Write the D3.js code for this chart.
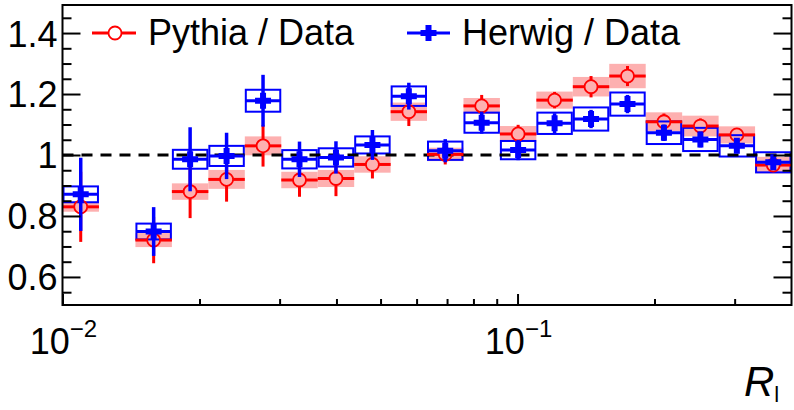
<!DOCTYPE html>
<html>
<head>
<meta charset="utf-8">
<script src="https://d3js.org/d3.v7.min.js"></script>
<style>
  body { margin: 0; background: #fff; }
  text { font-family: "Liberation Sans", Arial, Helvetica, sans-serif; }
</style>
</head>
<body>
<svg id="chart" width="794" height="410"></svg>
<script>
// bin edges in R_l (20 log bins, 0.01 -> 0.4); bin 1 has no entry
var binEdges = [0.01, 0.012026, 0.014463, 0.017393, 0.020918, 0.025156, 0.030253,
  0.036383, 0.043755, 0.052620, 0.063246, 0.076063, 0.091461, 0.10999, 0.13228,
  0.15906, 0.19127, 0.23003, 0.27663, 0.33266, 0.4];

var pythiaVal  = [0.830, null, 0.721, 0.880, 0.920, 1.030, 0.918, 0.923, 0.969, 1.142,
  1.002, 1.161, 1.069, 1.180, 1.224, 1.259, 1.109, 1.095, 1.066, 0.967];
var pythiaStat = [0.115, null, 0.076, 0.087, 0.073, 0.068, 0.055, 0.058, 0.046, 0.047,
  0.033, 0.036, 0.030, 0.027, 0.035, 0.033, 0.027, 0.025, 0.019, 0.020];
var pythiaSys  = [0.016, null, 0.023, 0.027, 0.031, 0.031, 0.027, 0.028, 0.027, 0.030,
  0.022, 0.026, 0.026, 0.028, 0.032, 0.040, 0.031, 0.034, 0.028, 0.027];

var herwigVal  = [0.871, null, 0.749, 0.986, 0.997, 1.178, 0.986, 0.992, 1.033, 1.193,
  1.014, 1.106, 1.016, 1.104, 1.118, 1.167, 1.073, 1.051, 1.030, 0.976];
var herwigStat = [0.120, null, 0.080, 0.105, 0.076, 0.085, 0.058, 0.053, 0.049, 0.044,
  0.038, 0.036, 0.033, 0.033, 0.030, 0.030, 0.027, 0.026, 0.021, 0.020];
var herwigSys  = [0.026, null, 0.026, 0.031, 0.033, 0.036, 0.030, 0.030, 0.028, 0.032,
  0.030, 0.033, 0.030, 0.035, 0.038, 0.038, 0.037, 0.038, 0.035, 0.033];

var yMajor = [0.6, 0.8, 1.0, 1.2, 1.4];
var yMinor = [0.55, 0.65, 0.7, 0.75, 0.85, 0.9, 0.95, 1.05, 1.1, 1.15, 1.25, 1.3, 1.35, 1.45];
var xMajor = [0.01, 0.1];
var xMinor = [0.02, 0.03, 0.04, 0.05, 0.06, 0.07, 0.08, 0.09, 0.2, 0.3];
var xMajorExp = ["\u22122", "\u22121"];

var L = 62.5, R = 791.5, T = 5, B = 305;

var xs = d3.scaleLog().domain([0.01, 0.4]).range([L, R]);
var ys = d3.scaleLinear().domain([0.508, 1.492]).range([B, T]);

var svg = d3.select('#chart');

function rows(vals, stat, sys) {
  var out = [];
  for (var i = 0; i < vals.length; i++) {
    if (vals[i] == null) continue;
    out.push({lo: binEdges[i], hi: binEdges[i + 1], v: vals[i], stat: stat[i], sys: sys[i]});
  }
  return out;
}
var pythia = rows(pythiaVal, pythiaStat, pythiaSys);
var herwig = rows(herwigVal, herwigStat, herwigSys);

var pink = 'rgb(253,176,176)';
var red = '#ff0000';
var blue = '#0000ff';

function crossPath(cx, cy, a, t) {
  return 'M' + (cx - t) + ',' + (cy - a) + 'H' + (cx + t) + 'V' + (cy - t) + 'H' + (cx + a) +
    'V' + (cy + t) + 'H' + (cx + t) + 'V' + (cy + a) + 'H' + (cx - t) + 'V' + (cy + t) +
    'H' + (cx - a) + 'V' + (cy - t) + 'H' + (cx - t) + 'Z';
}

// pythia systematic boxes
svg.append('g').selectAll('rect').data(pythia).enter().append('rect')
  .attr('x', function(d) { return xs(d.lo); })
  .attr('width', function(d) { return xs(d.hi) - xs(d.lo); })
  .attr('y', function(d) { return ys(d.v + d.sys); })
  .attr('height', function(d) { return ys(d.v - d.sys) - ys(d.v + d.sys); })
  .style('fill', pink);

// herwig systematic boxes
svg.append('g').selectAll('rect').data(herwig).enter().append('rect')
  .attr('x', function(d) { return xs(d.lo) + 1; })
  .attr('width', function(d) { return xs(d.hi) - xs(d.lo) - 2; })
  .attr('y', function(d) { return ys(d.v + d.sys); })
  .attr('height', function(d) { return ys(d.v - d.sys) - ys(d.v + d.sys); })
  .style('fill', 'none').style('stroke', blue).style('stroke-width', 2);

// dashed line at 1
svg.append('line')
  .attr('x1', L).attr('x2', R).attr('y1', ys(1)).attr('y2', ys(1))
  .style('stroke', '#000').style('stroke-width', 3).style('stroke-dasharray', '11,8');

// pythia points
var rr = 6.5;
var gp = svg.append('g');
pythia.forEach(function(d) {
  var x0 = xs(d.lo), x1 = xs(d.hi), cx = (x0 + x1) / 2, cy = ys(d.v);
  var segs = [
    [x0, cy, cx - rr, cy], [cx + rr, cy, x1, cy],
    [cx, ys(d.v + d.stat), cx, cy - rr], [cx, cy + rr, cx, ys(d.v - d.stat)]
  ];
  segs.forEach(function(s) {
    gp.append('line').attr('x1', s[0]).attr('y1', s[1]).attr('x2', s[2]).attr('y2', s[3])
      .style('stroke', red).style('stroke-width', 3);
  });
  gp.append('circle').attr('cx', cx).attr('cy', cy).attr('r', rr)
    .style('fill', 'none').style('stroke', red).style('stroke-width', 1.8);
});

// herwig points
var gh = svg.append('g');
herwig.forEach(function(d) {
  var x0 = xs(d.lo), x1 = xs(d.hi), cx = (x0 + x1) / 2, cy = ys(d.v);
  gh.append('line').attr('x1', x0 + 1).attr('x2', x1 - 1).attr('y1', cy).attr('y2', cy)
    .style('stroke', blue).style('stroke-width', 3);
  gh.append('line').attr('x1', cx).attr('x2', cx).attr('y1', ys(d.v + d.stat)).attr('y2', ys(d.v - d.stat))
    .style('stroke', blue).style('stroke-width', 3.5);
  gh.append('path').attr('d', crossPath(cx, cy, 8, 3)).style('fill', blue);
});

// axes
function styleAxis(g) {
  g.select('.domain').remove();
  g.selectAll('.tick line').style('stroke', '#000').style('stroke-width', 2);
}
svg.append('g').attr('transform', 'translate(' + L + ',0)')
  .call(d3.axisLeft(ys).tickValues(yMajor).tickSize(-18).tickPadding(5)
    .tickFormat(function(d) { return d === 1 ? '1' : d3.format('.1f')(d); }))
  .call(styleAxis)
  .selectAll('text').style('font-size', '36px').style('fill', '#000')
  .attr('dy', '0.36em').style('font-family', '"Liberation Sans", Arial, sans-serif');
svg.append('g').attr('transform', 'translate(' + L + ',0)')
  .call(d3.axisLeft(ys).tickValues(yMinor).tickSize(-9).tickFormat(''))
  .call(styleAxis);
svg.append('g').attr('transform', 'translate(' + R + ',0)')
  .call(d3.axisRight(ys).tickValues(yMajor).tickSize(-18).tickFormat(''))
  .call(styleAxis);
svg.append('g').attr('transform', 'translate(' + R + ',0)')
  .call(d3.axisRight(ys).tickValues(yMinor).tickSize(-9).tickFormat(''))
  .call(styleAxis);
svg.append('g').attr('transform', 'translate(0,' + B + ')')
  .call(d3.axisBottom(xs).tickValues(xMajor).tickSize(-11).tickFormat(''))
  .call(styleAxis);
svg.append('g').attr('transform', 'translate(0,' + B + ')')
  .call(d3.axisBottom(xs).tickValues(xMinor).tickSize(-6).tickFormat(''))
  .call(styleAxis);

// x tick labels 10^n
xMajor.forEach(function(v, i) {
  var t = svg.append('text').attr('x', xs(v) + 1).attr('y', 354)
    .attr('text-anchor', 'middle').style('font-size', '36px');
  t.append('tspan').text('10');
  t.append('tspan').attr('dy', -17).style('font-size', '24px').text(xMajorExp[i]);
});

// frame
svg.append('rect').attr('x', L).attr('y', T).attr('width', R - L).attr('height', B - T)
  .style('fill', 'none').style('stroke', '#000').style('stroke-width', 2);

// x axis title
var ttl = svg.append('text').attr('x', 744).attr('y', 396);
ttl.append('tspan').style('font-size', '42px').style('font-style', 'italic').text('R');
ttl.append('tspan').attr('dy', 6).style('font-size', '22px').text('l');

// legend
var lg = svg.append('g');
lg.append('line').attr('x1', 92).attr('x2', 115 - rr).attr('y1', 33).attr('y2', 33)
  .style('stroke', red).style('stroke-width', 3);
lg.append('line').attr('x1', 115 + rr).attr('x2', 136).attr('y1', 33).attr('y2', 33)
  .style('stroke', red).style('stroke-width', 3);
lg.append('circle').attr('cx', 115).attr('cy', 33).attr('r', rr)
  .style('fill', 'none').style('stroke', red).style('stroke-width', 1.8);
lg.append('text').attr('x', 148).attr('y', 45).style('font-size', '36px').text('Pythia / Data');

lg.append('line').attr('x1', 407).attr('x2', 450).attr('y1', 33).attr('y2', 33)
  .style('stroke', blue).style('stroke-width', 3);
lg.append('path').attr('d', crossPath(428.5, 33, 8, 3)).style('fill', blue);
lg.append('text').attr('x', 462).attr('y', 45).style('font-size', '36px').text('Herwig / Data');
</script>
</body>
</html>
